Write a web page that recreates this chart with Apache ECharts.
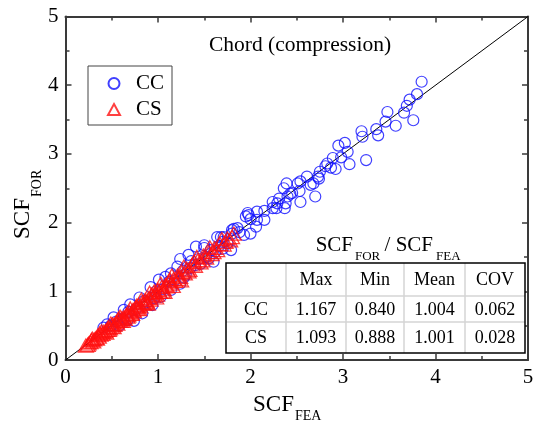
<!DOCTYPE html>
<html>
<head>
<meta charset="utf-8">
<script src="https://cdn.jsdelivr.net/npm/echarts@6/dist/echarts.min.js"></script>
<style>
  html, body { margin: 0; padding: 0; background: #fff; }
  #chart { width: 539px; height: 425px; }
</style>
</head>
<body>
<div id="chart"></div>
<script>
// SCF comparison: formula (FOR) vs finite-element (FEA), chord in compression
const axisTicks = [0, 1, 2, 3, 4, 5];

// CC joints: [SCF_FEA, SCF_FOR]
const ccPoints = [
  [3.85, 4.05], [3.80, 3.87], [3.72, 3.79], [3.69, 3.70], [3.66, 3.60], [3.76, 3.49],
  [3.48, 3.61], [3.46, 3.47], [3.57, 3.41], [3.36, 3.36], [3.38, 3.27], [3.20, 3.33],
  [3.21, 3.25], [3.25, 2.91], [3.02, 3.16], [2.95, 3.12], [3.05, 3.03], [2.98, 2.95],
  [2.89, 2.94], [2.83, 2.86], [3.07, 2.85], [2.87, 2.80], [2.92, 2.78], [2.75, 2.74],
  [2.81, 2.82], [2.73, 2.67], [2.61, 2.67], [2.74, 2.64], [2.68, 2.57], [2.65, 2.55],
  [2.54, 2.60], [2.51, 2.57], [2.39, 2.57], [2.36, 2.50], [2.53, 2.46], [2.45, 2.43],
  [2.43, 2.42], [2.70, 2.38], [2.54, 2.30], [2.40, 2.38], [2.31, 2.35], [2.24, 2.30],
  [2.38, 2.28], [2.29, 2.28], [2.37, 2.21], [2.28, 2.21], [2.24, 2.21], [2.15, 2.17],
  [2.07, 2.16], [1.97, 2.14], [1.98, 2.11], [1.95, 2.09], [2.00, 2.05], [2.07, 2.04],
  [2.15, 2.04], [2.06, 1.94], [1.86, 1.92], [1.82, 1.91], [2.00, 1.84], [1.93, 1.82],
  [1.80, 1.89], [1.80, 1.84], [1.71, 1.79], [1.64, 1.79], [1.79, 1.60], [1.68, 1.79],
  [1.50, 1.67], [1.50, 1.63], [1.41, 1.65], [1.33, 1.53], [1.24, 1.47], [1.60, 1.43],
  [1.21, 1.36], [1.24, 1.11], [1.14, 1.26], [1.01, 1.17], [1.08, 1.21], [0.92, 1.06],
  [1.14, 1.02], [1.03, 0.92], [0.94, 0.80], [0.83, 0.68], [0.74, 0.57], [0.58, 0.50],
  [0.70, 0.81], [0.63, 0.73], [0.52, 0.62], [0.41, 0.47], [0.45, 0.52], [0.49, 0.50],
  [0.67, 0.58], [0.55, 0.56], [0.62, 0.60], [0.68, 0.70], [0.76, 0.74], [0.85, 0.86],
  [0.88, 0.84], [0.98, 1.00], [1.05, 1.03], [1.12, 1.14], [1.18, 1.16], [1.27, 1.30],
  [1.35, 1.34], [1.44, 1.47], [1.52, 1.50], [1.57, 1.60], [1.62, 1.58], [1.70, 1.72],
  [1.75, 1.70], [1.88, 1.86], [1.30, 1.24], [1.40, 1.38], [1.46, 1.40], [1.66, 1.66],
  [1.36, 1.44], [1.55, 1.48], [1.70, 1.62], [0.80, 0.91], [0.96, 0.90], [1.28, 1.20]
];

// CS joints: [SCF_FEA, SCF_FOR]
const csPoints = [
  [0.22, 0.21], [0.25, 0.24], [0.27, 0.26], [0.28, 0.29], [0.30, 0.27], [0.31, 0.30],
  [0.33, 0.32], [0.35, 0.36], [0.36, 0.34], [0.38, 0.37], [0.40, 0.38], [0.41, 0.41],
  [0.43, 0.42], [0.45, 0.44], [0.46, 0.47], [0.48, 0.46], [0.50, 0.49], [0.51, 0.52],
  [0.53, 0.51], [0.55, 0.55], [0.56, 0.53], [0.58, 0.58], [0.60, 0.57], [0.61, 0.61],
  [0.63, 0.62], [0.64, 0.60], [0.66, 0.66], [0.68, 0.65], [0.69, 0.70], [0.71, 0.68],
  [0.73, 0.73], [0.74, 0.71], [0.76, 0.77], [0.78, 0.75], [0.79, 0.80], [0.81, 0.78],
  [0.83, 0.84], [0.85, 0.82], [0.86, 0.87], [0.88, 0.85], [0.90, 0.90], [0.92, 0.88],
  [0.93, 0.95], [0.95, 0.93], [0.97, 0.97], [0.99, 0.95], [1.00, 1.02], [1.02, 0.99],
  [1.04, 1.06], [1.06, 1.03], [1.08, 1.09], [1.10, 1.07], [1.12, 1.13], [1.14, 1.11],
  [1.17, 1.18], [1.19, 1.15], [1.21, 1.23], [1.24, 1.21], [1.26, 1.28], [1.29, 1.26],
  [1.31, 1.33], [1.34, 1.31], [1.37, 1.39], [1.40, 1.37], [1.43, 1.45], [1.46, 1.42],
  [1.49, 1.52], [1.52, 1.49], [1.55, 1.57], [1.58, 1.54], [1.61, 1.63], [1.64, 1.60],
  [1.67, 1.69], [1.71, 1.68], [1.75, 1.77], [1.78, 1.74], [1.82, 1.84],
  [0.34, 0.31], [0.44, 0.40], [0.52, 0.48], [0.62, 0.57], [0.72, 0.67], [0.80, 0.74],
  [0.89, 0.82], [0.98, 0.91], [1.07, 0.99], [1.16, 1.08], [1.25, 1.16],
  [0.39, 0.42], [0.49, 0.53], [0.59, 0.63], [0.70, 0.75], [0.82, 0.88], [0.91, 0.98],
  [1.03, 1.11], [1.15, 1.23], [1.28, 1.36], [1.42, 1.50], [1.56, 1.64], [1.69, 1.76],
  [0.24, 0.22], [0.29, 0.31], [0.37, 0.39], [0.47, 0.44], [0.57, 0.60], [0.67, 0.63],
  [0.77, 0.79], [0.87, 0.83], [0.96, 1.00], [1.05, 1.00], [1.13, 1.17], [1.22, 1.18],
  [1.33, 1.29], [1.39, 1.43], [1.48, 1.45], [1.60, 1.57], [1.73, 1.72], [1.80, 1.79]
];

// y = x reference line
const equalityLine = [[0, 0], [5, 5]];

// Summary statistics of SCF_FOR / SCF_FEA
const statHeaders = ['Max', 'Min', 'Mean', 'COV'];
const statRows = ['CC', 'CS'];
const statValues = [
  ['1.167', '0.840', '1.004', '0.062'],
  ['1.093', '0.888', '1.001', '0.028']
];

const FONT = '"Times New Roman", "Liberation Serif", serif';
const AXIS_COLOR = '#3a3a3a';

function axisCommon(showLabels, position) {
  return {
    type: 'value',
    min: 0,
    max: 5,
    interval: 1,
    position: position,
    axisLine: { show: true, onZero: false, lineStyle: { color: AXIS_COLOR, width: 2 } },
    axisTick: { show: true, inside: true, length: 6, lineStyle: { color: AXIS_COLOR, width: 1.5 } },
    minorTick: { show: true, splitNumber: 2, length: 4, lineStyle: { color: AXIS_COLOR, width: 1.5 } },
    splitLine: { show: false },
    axisLabel: {
      show: showLabels,
      fontFamily: FONT,
      fontSize: 21,
      color: '#000',
      margin: 7,
      formatter: v => (axisTicks.indexOf(v) >= 0 ? String(v) : '')
    }
  };
}

// Table geometry
const tbl = { x: 226, y: 263, colX: [226, 286, 346, 404, 465, 525], rowY: [263, 296, 322, 353] };

function tableGraphics() {
  const els = [];
  els.push({
    type: 'rect', z: 100,
    shape: { x: tbl.x, y: tbl.y, width: tbl.colX[5] - tbl.x, height: tbl.rowY[3] - tbl.y },
    style: { fill: '#fff', stroke: 'none' }
  });
  // inner grid lines (light grey)
  for (let i = 1; i < 5; i++) {
    els.push({ type: 'line', z: 101,
      shape: { x1: tbl.colX[i], y1: tbl.y, x2: tbl.colX[i], y2: tbl.rowY[3] },
      style: { stroke: '#d4d4d4', lineWidth: 1.5 } });
  }
  for (let j = 1; j < 3; j++) {
    els.push({ type: 'line', z: 101,
      shape: { x1: tbl.x, y1: tbl.rowY[j], x2: tbl.colX[5], y2: tbl.rowY[j] },
      style: { stroke: '#d4d4d4', lineWidth: 1.5 } });
  }
  els.push({
    type: 'rect', z: 102,
    shape: { x: tbl.x, y: tbl.y, width: tbl.colX[5] - tbl.x, height: tbl.rowY[3] - tbl.y },
    style: { fill: 'none', stroke: '#000', lineWidth: 1.5 }
  });
  const cell = (txt, col, row) => ({
    type: 'text', z: 103,
    style: {
      text: txt,
      x: (tbl.colX[col] + tbl.colX[col + 1]) / 2,
      y: (tbl.rowY[row] + tbl.rowY[row + 1]) / 2 + 1,
      fontFamily: FONT, fontSize: 18, fill: '#000',
      textAlign: 'center', textVerticalAlign: 'middle'
    }
  });
  statHeaders.forEach((h, i) => els.push(cell(h, i + 1, 0)));
  statRows.forEach((r, j) => {
    els.push(cell(r, 0, j + 1));
    statValues[j].forEach((v, i) => els.push(cell(v, i + 1, j + 1)));
  });
  return els;
}

function txt(text, x, y, size, align, extra) {
  return Object.assign({
    type: 'text', z: 103,
    style: { text: text, x: x, y: y, fontFamily: FONT, fontSize: size, fill: '#000',
      textAlign: align, textVerticalAlign: 'middle' }
  }, extra || {});
}

const chart = echarts.init(document.getElementById('chart'), null, { renderer: 'canvas' });

chart.setOption({
  animation: false,
  backgroundColor: '#fff',
  grid: { left: 65.5, right: 11, top: 16.5, bottom: 65, containLabel: false },
  xAxis: [axisCommon(true, 'bottom'), axisCommon(false, 'top')],
  yAxis: [axisCommon(true, 'left'), axisCommon(false, 'right')],
  legend: {
    left: 88, top: 66,
    orient: 'vertical',
    data: ['CC', 'CS'],
    itemWidth: 12, itemHeight: 11,
    itemGap: 5, itemTextGap: 17,
    padding: [7, 8, 5, 19],
    borderColor: '#444', borderWidth: 1,
    textStyle: { fontFamily: FONT, fontSize: 21, color: '#000', lineHeight: 20, padding: [0, 0, 0, 11] }
  },
  series: [
    {
      type: 'line', data: equalityLine, xAxisIndex: 0, yAxisIndex: 0,
      showSymbol: false, symbol: 'none', silent: true, z: 1,
      lineStyle: { color: '#000', width: 1 }
    },
    {
      name: 'CC', type: 'scatter', data: ccPoints, xAxisIndex: 0, yAxisIndex: 0,
      symbol: 'circle', symbolSize: 11, z: 2,
      itemStyle: { color: 'rgba(0,0,0,0)', borderColor: '#1010ff', borderWidth: 1.2 }
    },
    {
      name: 'CS', type: 'scatter', data: csPoints, xAxisIndex: 0, yAxisIndex: 0,
      symbol: 'triangle', symbolSize: [15, 13], z: 3,
      itemStyle: { color: 'rgba(0,0,0,0)', borderColor: '#ff1010', borderWidth: 1.3 }
    }
  ],
  graphic: [
    txt('Chord (compression)', 300, 45, 21.5, 'center'),
    // table caption SCF_FOR / SCF_FEA
    txt('SCF', 353, 245, 21, 'right'),
    txt('FOR', 355, 257, 13, 'left'),
    txt('/ SCF', 433, 245, 21, 'right'),
    txt('FEA', 436, 257, 13, 'left'),
    // x axis name
    txt('SCF', 294, 405, 23, 'right'),
    txt('FEA', 295, 416, 14, 'left'),
    // y axis name (rotated)
    {
      type: 'group', x: 23, y: 198, rotation: Math.PI / 2,
      children: [
        txt('SCF', 0, 0, 23, 'right'),
        txt('FOR', 1, 14, 14, 'left')
      ]
    }
  ].concat(tableGraphics())
});
</script>
</body>
</html>
